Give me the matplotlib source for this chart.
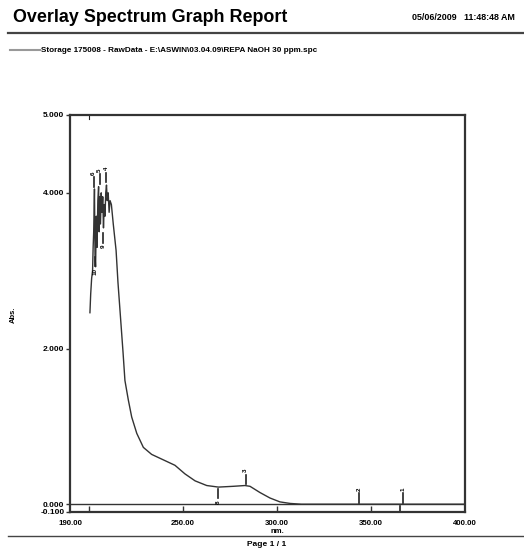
import matplotlib.pyplot as plt

# spectrum (nm, Abs.)
wl = [200.6, 201.0, 201.5, 202.0, 202.3, 202.6, 203.0, 203.3, 203.6, 204.0,
      204.4, 204.8, 205.2, 205.5, 205.8, 206.2, 206.6, 207.0, 207.4, 207.8,
      208.2, 208.6, 209.0, 209.4, 209.8, 210.3, 210.8, 211.3, 212.0, 213.0,
      214.5, 215.5, 217.0, 218.2, 219.2, 221.0, 222.8, 225.5, 229.0, 233.4,
      239.6, 245.8, 251.1, 256.5, 262.7, 268.9, 276.8, 283.0, 285.7, 291.0,
      296.3, 301.6, 307.0, 313.0, 330.0, 360.0, 400.0]
ab = [2.46, 2.7, 2.9, 3.0, 3.3, 3.5, 4.05, 3.2, 3.05, 3.7,
      3.3, 3.9, 4.08, 3.5, 3.95, 3.6, 4.0, 3.75, 3.95, 3.55,
      3.85, 3.7, 4.0, 4.1, 3.9, 4.0, 3.75, 3.9, 3.85, 3.6,
      3.26, 2.85, 2.35, 1.95, 1.59, 1.34, 1.12, 0.91, 0.73, 0.64,
      0.57, 0.50, 0.39, 0.30, 0.24, 0.22, 0.23, 0.24, 0.23, 0.15,
      0.08, 0.03, 0.01, 0.0, 0.0, 0.0, 0.0]

# peak picks: label, nm, abs at mark, direction (1 above, -1 below)
pk_lab = ['6', '5', '4', '10', '9', '3', '8', '2', '1']
pk_nm = [202.6, 205.8, 209.4, 203.4, 207.8, 283.5, 268.9, 343.6, 367.0]
pk_ab = [4.06, 4.1, 4.12, 3.2, 3.5, 0.24, 0.22, 0.0, 0.0]
pk_dir = [1, 1, 1, -1, -1, 1, -1, 1, 1]

xtick_lab = [190, 250, 300, 350, 400]
ytick_lab = [-0.1, 0.0, 2.0, 4.0, 5.0]

plt.rcParams['font.family'] = ['Liberation Sans', 'DejaVu Sans']

fig = plt.figure(figsize=(5.24, 5.48), dpi=100)

# header
fig.text(13/524, 1-17/548, 'Overlay Spectrum Graph Report', fontsize=12.9,
         fontweight='bold', va='center')
fig.text(515/524, 1-18/548, '05/06/2009   11:48:48 AM', fontsize=6.4,
         fontweight='bold', va='center', ha='right')
fig.add_artist(plt.Line2D([8/524, 1], [1-33/548, 1-33/548], color='#444444', lw=1.6))
fig.add_artist(plt.Line2D([10/524, 40/524], [1-50/548, 1-50/548], color='#999999', lw=1.5))
fig.text(41/524, 1-50/548,
         'Storage 175008 - RawData - E:\\ASWIN\\03.04.09\\REPA NaOH 30 ppm.spc',
         fontsize=5.9, fontweight='bold', va='center')

# footer
fig.add_artist(plt.Line2D([8/524, 1], [1-536/548, 1-536/548], color='#444444', lw=1.0))
fig.text(267/524, 1-545/548, 'Page 1 / 1', fontsize=6, fontweight='bold',
         ha='center', va='center')

ax = fig.add_axes([70/524, 1-512/548, 395/524, 397/548])
ax.plot(wl, ab, color='#333333', lw=1.0)
ax.axhline(0.0, color='#333333', lw=1.0)
ax.set_xlim(190, 400)
ax.set_ylim(-0.1, 5.0)

for s in ax.spines.values():
    s.set_linewidth(1.6)
    s.set_color('#333333')

ax.set_xticks([200, 250, 300, 350])
ax.set_xticklabels([])
ax.tick_params(axis='x', direction='in', length=4, width=1, color='#333333')
for v in xtick_lab:
    ax.text(v, -0.2, '%.2f' % v, fontsize=5.7, fontweight='bold',
            ha='center', va='top', clip_on=False)
ax.set_yticks(ytick_lab)
ax.set_yticklabels(['%.3f' % v for v in ytick_lab], fontsize=6, fontweight='bold')
ax.tick_params(axis='y', direction='out', length=3, width=1, color='#333333', pad=1)

ax.text(300, -0.3, 'nm.', fontsize=5.5, fontweight='bold', ha='center', va='top')
fig.text(13/524, 1-315/548, 'Abs.', fontsize=5.5, fontweight='bold', rotation=90,
         ha='center', va='center')

# peak pick marks
for lab, x, y, d in zip(pk_lab, pk_nm, pk_ab, pk_dir):
    y0 = y + d*0.02
    y1 = y + d*0.14
    ax.plot([x, x], [y0, y1], color='#222222', lw=1.2)
    ax.text(x, y1 + d*0.03, lab, fontsize=4.5, fontweight='bold', rotation=90,
            ha='center', va='bottom' if d > 0 else 'top')
ax.plot([365.5, 365.5], [-0.02, -0.1], color='#222222', lw=1.2)
ax.plot([200.2, 200.2], [5.0, 4.95], color='#222222', lw=0.8)

fig.savefig('out.png', dpi=100)
